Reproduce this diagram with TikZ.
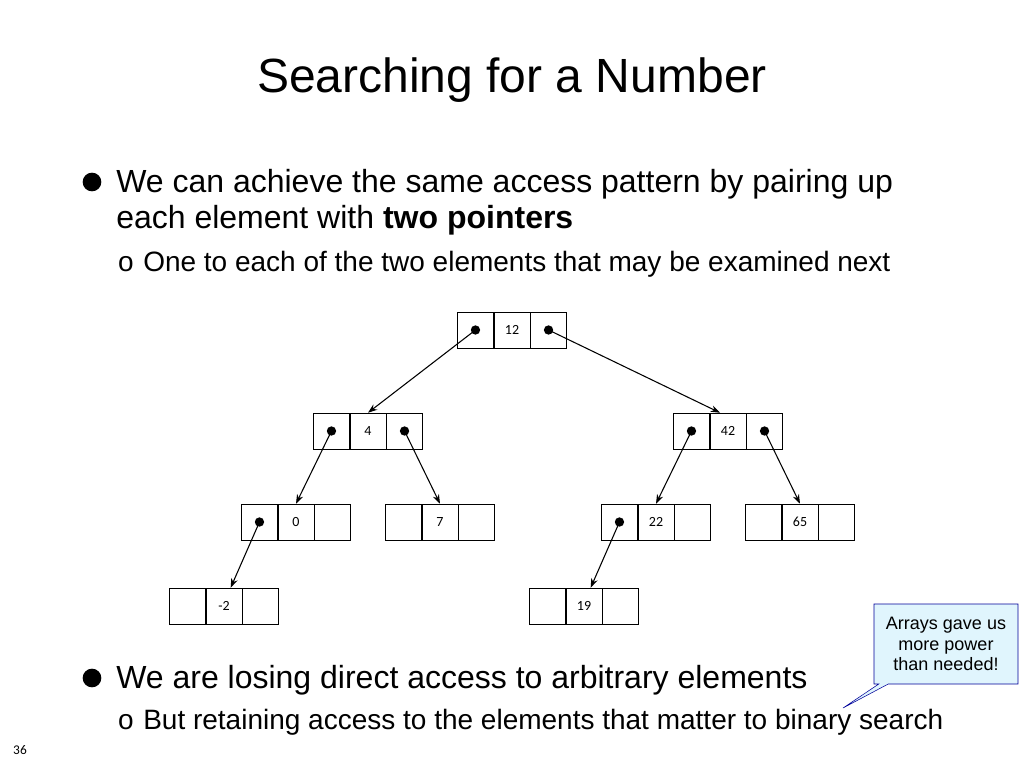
\documentclass[tikz,border=0pt]{standalone}
\usepackage{fontspec}
\setmainfont{Liberation Sans}
\newfontfamily\cellfont{Carlito}
\usetikzlibrary{positioning,arrows.meta,shapes.callouts}
\tikzset{cell/.style={draw, minimum width=27pt, minimum height=27pt, inner sep=0pt, font=\cellfont\fontsize{10.5}{12}\selectfont},
        ptr/.style={-{Stealth[length=7pt,width=5pt]}, thick},
        dot/.style={circle, fill, inner sep=0pt, minimum size=7pt},
        body/.style={anchor=base west, inner sep=0pt, font=\fontsize{24}{28}\selectfont},
        sub/.style={anchor=base west, inner sep=0pt, font=\fontsize{21}{25}\selectfont}}
% three cells: left pointer, value, right pointer
\newcommand{\trio}[3]{%
  \node[cell] (#1) at (#2) {#3};
  \node[cell, left=0pt of #1] (#1l) {};
  \node[cell, right=0pt of #1] (#1r) {};}
\begin{document}
\begin{tikzpicture}[x=0.75pt,y=-0.75pt]
  \useasboundingbox (0,0) rectangle (1024,768);
  % title and text
  \node[font=\fontsize{36}{42}\selectfont] (title) at (512,80) {Searching for a Number};
  \node[body] (b1) at (116,192) {We can achieve the same access pattern by pairing up};
  \node[body] (b1b) at (116,228) {each element with \textbf{two pointers}};
  \node[sub] (s1) at (143,271) {One to each of the two elements that may be examined next};
  \node[body] (b2) at (116,688) {We are losing direct access to arbitrary elements};
  \node[sub] (s2) at (143,729) {But retaining access to the elements that matter to binary search};
  \node[dot, minimum size=14pt] (bu1) at (92,182) {};
  \node[dot, minimum size=14pt] (bu2) at (92,678) {};
  \node[sub, anchor=base] (o1) at (126,271) {o};
  \node[sub, anchor=base] (o2) at (126,729) {o};
  \node[font=\cellfont\fontsize{10}{12}\selectfont] (page) at (20,750) {36};
  % tree
  \trio{n12}{512,330}{12}
  \trio{n4}{368,431}{4}
  \trio{n42}{728,431}{42}
  \trio{n0}{296,522}{0}
  \trio{n7}{440,522}{7}
  \trio{n22}{656,522}{22}
  \trio{n65}{800,522}{65}
  \trio{nm2}{224,606}{-2}
  \trio{n19}{584,606}{19}
  \foreach \n in {n12l,n12r,n4l,n4r,n42l,n42r,n0l,n22l}
    \node[dot] (\n d) at (\n) {};
  \draw[ptr] (n12ld.center) -- (n4.north);
  \draw[ptr] (n12rd.center) -- ([xshift=-6pt]n42.north);
  \draw[ptr] (n4ld.center) -- (n0.north);
  \draw[ptr] (n4rd.center) -- (n7.north);
  \draw[ptr] (n42ld.center) -- (n22.north);
  \draw[ptr] (n42rd.center) -- (n65.north);
  \draw[ptr] (n0ld.center) -- ([xshift=5pt]nm2.north);
  \draw[ptr] (n22ld.center) -- ([xshift=5pt]n19.north);
  % callout
  \node[rectangle callout, draw=blue!60!black, fill=cyan!12, align=center, minimum width=108pt, minimum height=60pt, inner sep=2pt,
        font=\fontsize{13.5}{15.5}\selectfont, callout absolute pointer={(843,708)}] (note) at (946,644) {Arrays gave us\\more power\\than needed!};
\end{tikzpicture}
\end{document}
